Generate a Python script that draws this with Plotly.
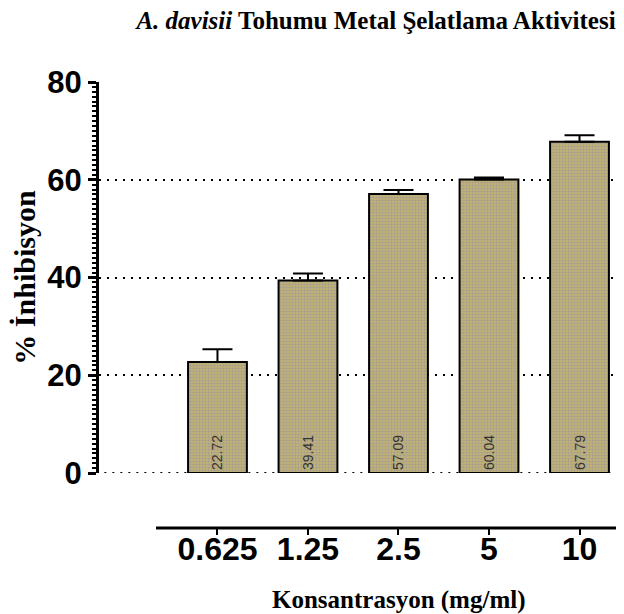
import plotly.graph_objects as go

categories = ["0.625", "1.25", "2.5", "5", "10"]
values = [22.72, 39.41, 57.09, 60.04, 67.79]
errors = [2.6, 1.4, 0.8, 0.4, 1.3]
labels = ["22.72", "39.41", "57.09", "60.04", "67.79"]
y_ticks = [0, 20, 40, 60, 80]

W, H = 624, 614
L, R, T, B = 91, 0, 74, 94
plot_h = H - T - B
y0_px = 465
dom_low = (H - B - y0_px) / plot_h

SERIF = "Liberation Serif, Times New Roman, serif"
SANS = "Liberation Sans, Arial, sans-serif"

fig = go.Figure()
fig.add_trace(go.Bar(
    x=categories, y=values,
    width=0.65,
    marker=dict(
        color="#bdb075",
        line=dict(color="black", width=2),
        pattern=dict(shape=".", bgcolor="#bdb075", fgcolor="#8a88b4",
                     size=3, solidity=0.35, fillmode="overlay"),
    ),
    error_y=dict(type="data", array=errors, symmetric=False, arrayminus=[0]*5,
                 color="black", thickness=2, width=15),
    text=labels, textposition="inside", insidetextanchor="start",
    textangle=-90, texttemplate="%{text}",
    textfont=dict(family=SANS, size=14, color="#333333"),
    cliponaxis=False,
))

fig.update_layout(
    width=W, height=H,
    margin=dict(l=L, r=R, t=T, b=B, pad=0),
    paper_bgcolor="white", plot_bgcolor="white",
    showlegend=False,
    title=dict(
        text="<i>A. davisii</i> Tohumu Metal Şelatlama Aktivitesi",
        font=dict(family=SERIF, size=25, color="black", weight="bold"),
        x=368 / W, xanchor="center", xref="container",
        y=1 - 12 / H, yanchor="middle", yref="container",
    ),
    xaxis=dict(
        type="category",
        range=[-1.309, 4.58],
        anchor="free", position=0,
        showline=False, showgrid=False, zeroline=False,
        ticks="outside", ticklen=6, tickwidth=2, tickcolor="black",
        ticklabelstandoff=-13,
        tickfont=dict(family=SANS, size=32, color="black", weight="bold"),
    ),
    yaxis=dict(
        range=[0, 80],
        domain=[dom_low, 1],
        tickvals=y_ticks,
        showline=True, linecolor="black", linewidth=3,
        ticks="outside", ticklen=8, tickwidth=2.5, tickcolor="black",
        minor=dict(ticks="outside", dtick=1, ticklen=4, tickwidth=1.5, tickcolor="black",
                   showgrid=False),
        showgrid=True, gridcolor="black", gridwidth=2, griddash="2px,6px",
        zeroline=False,
        tickfont=dict(family=SANS, size=31, color="black", weight="bold"),
        title=dict(text="% İnhibisyon",
                   font=dict(family=SERIF, size=30, color="black", weight="bold"),
                   standoff=8),
    ),
    annotations=[dict(
        text="Konsantrasyon (mg/ml)", xref="paper", yref="paper",
        x=(390 - L) / (W - L - R), y=-(592 - (H - B)) / plot_h,
        xanchor="center", yanchor="middle", showarrow=False,
        font=dict(family=SERIF, size=25, color="black", weight="bold"),
    )],
)

# dotted gridline at 0 (plotly omits the gridline on the axis edge)
fig.add_shape(type="line", xref="paper", yref="y", x0=0.01, x1=1, y0=0, y1=0,
              line=dict(color="black", width=2, dash="2px,6px"), layer="below")

# separate x-axis baseline (offset from the y-axis, as in the reference)
fig.add_shape(type="line", xref="paper", yref="paper",
              x0=(148 - L) / (W - L - R), x1=1, y0=0, y1=0,
              line=dict(color="black", width=3))

fig.write_html("out.html")
